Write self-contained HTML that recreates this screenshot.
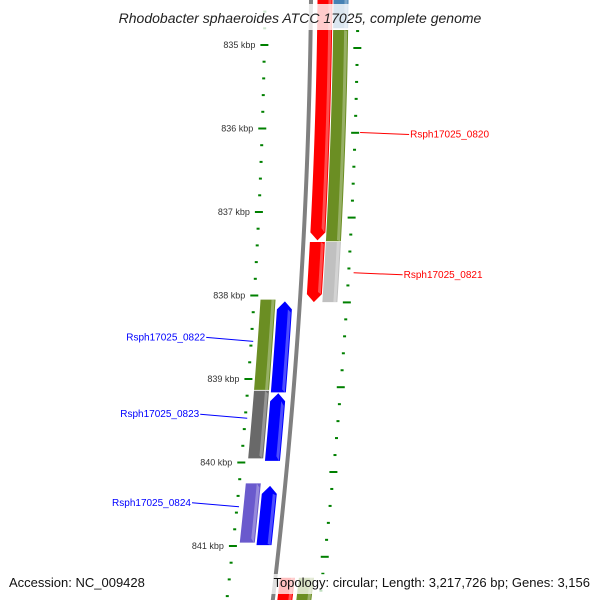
<!DOCTYPE html>
<html><head><meta charset="utf-8">
<style>
html,body{margin:0;padding:0;background:#fff;}
svg{display:block;font-family:"Liberation Sans","DejaVu Sans",sans-serif;}
</style></head>
<body>
<svg id="map" width="600" height="600" viewBox="0 0 600 600" xmlns="http://www.w3.org/2000/svg">
<g id="ticks"></g>
<g id="backbone"></g>
<g id="genes"></g>
<g id="labels"></g>
<rect x="95" y="4" width="410" height="26" fill="#fff" fill-opacity="0.8"/>
<text x="300" y="23" text-anchor="middle" font-size="14" font-style="italic" fill="#222">Rhodobacter sphaeroides ATCC 17025, complete genome</text>
<rect x="255" y="574" width="340" height="20" fill="#fff" fill-opacity="0.75"/>
<text x="9" y="587" font-size="13" fill="#111">Accession: NC_009428</text>
<text x="590" y="587" text-anchor="end" font-size="13" fill="#111">Topology: circular; Length: 3,217,726 bp; Genes: 3,156</text>
</svg>
<script>
// data
const majorTicksKbp = [835,836,837,838,839,840,841];
const tickLabels = ["835 kbp","836 kbp","837 kbp","838 kbp","839 kbp","840 kbp","841 kbp"];
const geneStart = [834.38,837.36,834.82,837.36,834.38,838.05,839.14,838.07,839.17,840.25,840.28,841.38,841.38];
const geneEnd   = [837.34,838.08,837.35,838.08,834.80,839.13,839.95,839.16,839.98,840.96,840.99,841.80,841.80];
const geneTrack = [14,14,30,30,30,-32,-32,-15,-15,-32,-15,12,31];
const geneColor = ["#ff0000","#ff0000","#6b8e23","#c0c0c0","#4682b4","#6b8e23","#696969","#0000ff","#0000ff","#6a5acd","#0000ff","#ff0000","#6b8e23"];
const geneArrow = ["down","down","none","none","none","none","none","up","up","none","up","none","none"];
const labelNames = ["Rsph17025_0820","Rsph17025_0821","Rsph17025_0822","Rsph17025_0823","Rsph17025_0824"];
const labelKbp   = [836.06,837.74,838.55,839.47,840.53];
const labelSide  = ["right","right","left","left","left"];

const NS="http://www.w3.org/2000/svg";
function yOf(k){return 45+(k-835)*83.5;}
function yR(k){return 48+(k-835)*84.8;}
function bx(y){return 311-0.00973*y-8.98e-5*y*y;}
function mk(tag,attrs,parent){const e=document.createElementNS(NS,tag);for(const a in attrs)e.setAttribute(a,attrs[a]);parent.appendChild(e);return e;}

// backbone
const bb=document.getElementById('backbone');
let pts=[];for(let y=-5;y<=605;y+=10)pts.push((bx(y)-2)+','+y);
for(let y=605;y>=-5;y-=10)pts.push((bx(y)+2)+','+y);
const bbp=mk('polygon',{points:pts.join(' '),fill:'#808080'},bb);



// ticks
const tg=document.getElementById('ticks');
for(let k=834.4;k<=842;k+=0.2){
  const kk=Math.round(k*10)/10;
  const major=Math.abs(kk-Math.round(kk))<0.01;
  const yl=yOf(kk), yr=yR(kk);
  const w=major?8:3;
  const l=mk('rect',{x:bx(yl)-46-w/2,y:yl-1,width:w,height:2,fill:'#008000'},tg);
  
  
  const r=mk('rect',{x:bx(yr)+47-w/2,y:yr-1,width:w,height:2,fill:'#008000'},tg);
  
  
}
majorTicksKbp.forEach((k,i)=>{
  const y=yOf(k);
  const t=mk('text',{x:bx(y)-55,y:y+3,'text-anchor':'end','font-size':'9',fill:'#333'},tg);
  t.textContent=tickLabels[i];
  
  
});

// genes
const gg=document.getElementById('genes');
geneStart.forEach((s,i)=>{
  const y0=yOf(s),y1=yOf(geneEnd[i]),off=geneTrack[i],hw=7.5,tip=8;
  const L=[],R=[];
  const ya=geneArrow[i]==='up'?y0+tip:y0, yb=geneArrow[i]==='down'?y1-tip:y1;
  for(let y=ya;y<=yb;y+=5){L.push([bx(y)+off-hw,y]);R.push([bx(y)+off+hw,y]);}
  L.push([bx(yb)+off-hw,yb]);R.push([bx(yb)+off+hw,yb]);
  let p=[];
  if(geneArrow[i]==='up')p.push([bx(y0)+off,y0]);
  p=p.concat(R);
  if(geneArrow[i]==='down')p.push([bx(y1)+off,y1]);
  p=p.concat(L.reverse());
  const poly=mk('polygon',{points:p.map(q=>q.join(',')).join(' '),fill:geneColor[i]},gg);
  
  
  const hl=[];for(let y=ya;y<=yb;y+=5)hl.push((bx(y)+off+hw-4)+','+y);
  for(let y=yb;y>=ya;y-=5)hl.push((bx(y)+off+hw-1)+','+y);
  const h=mk('polygon',{points:hl.join(' '),fill:'#fff','fill-opacity':'0.3'},gg);
  
  
});

// labels
const lg=document.getElementById('labels');
labelNames.forEach((n,i)=>{
  const y=yOf(labelKbp[i]);
  if(labelSide[i]==='right'){
    const x0=bx(y)+52;
    const ln=mk('line',{x1:x0,y1:y-1,x2:x0+49,y2:y+1,stroke:'#ff0000','stroke-width':'1'},lg);
    
    
    const t=mk('text',{x:x0+50,y:y+4,'font-size':'10',fill:'#ff0000'},lg);
    t.textContent=n;
    
    
  } else {
    const x1=bx(y)-44;
    const ln=mk('line',{x1:x1-47,y1:y-4,x2:x1,y2:y,stroke:'#0000ff','stroke-width':'1'},lg);
    
    
    const t=mk('text',{x:x1-48,y:y-1,'text-anchor':'end','font-size':'10',fill:'#0000ff'},lg);
    t.textContent=n;
    
    
  }
});
</script>
</body></html>
